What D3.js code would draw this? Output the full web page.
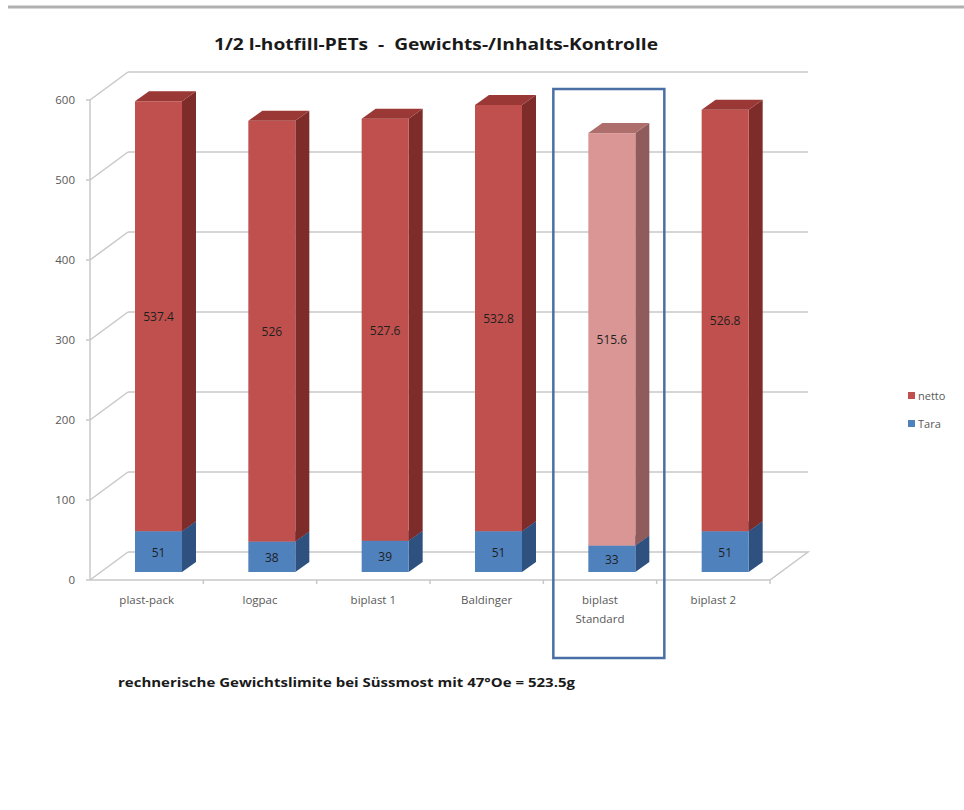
<!DOCTYPE html>
<html><head><meta charset="utf-8">
<script src="https://cdn.jsdelivr.net/npm/d3@7"></script>
<style>body{margin:0;background:#fff;} svg{display:block;font-family:"Open Sans","Liberation Sans",sans-serif;} text{white-space:pre;}</style>
</head><body>
<svg id="c" width="964" height="810"></svg>
<script>
const categories = ["plast-pack","logpac","biplast 1","Baldinger","biplast\nStandard","biplast 2"];
const tara = [51,38,39,51,33,51];
const netto = [537.4,526,527.6,532.8,515.6,526.8];
const yTicks = [0,100,200,300,400,500,600];
const highlightIndex = 4;
const title = "1/2 l-hotfill-PETs  -  Gewichts-/Inhalts-Kontrolle";
const footnote = "rechnerische Gewichtslimite bei Süssmost mit 47°Oe = 523.5g";

const svg = d3.select("#c");
const x = d3.scaleBand().domain(categories).range([90, 770]);
const y = d3.scaleLinear().domain([0,600]).range([580,100]);
const wallDx = 38, wallDy = -28;
const barDx = 14, barDy = -10, barLift = 8, barOff = 45, barW = 47;
const grid = "#c8c8c8";

// top line
svg.append("line").attr("x1",8).attr("x2",964).attr("y1",7).attr("y2",7).attr("stroke","#b0b0b0").attr("stroke-width",3);

// title
svg.append("text").attr("x",436).attr("y",50).attr("text-anchor","middle")
  .attr("font-size",16).attr("font-weight","bold").attr("fill","#1a1a1a")
  .attr("textLength",444).attr("lengthAdjust","spacingAndGlyphs").text(title);

// back wall gridlines + left wall diagonals
const g = svg.append("g");
yTicks.forEach(t=>{
  if(t>0){
    g.append("line").attr("x1",x.range()[0]+wallDx).attr("x2",x.range()[1]+wallDx)
      .attr("y1",y(t)+wallDy).attr("y2",y(t)+wallDy).attr("stroke",grid).attr("stroke-width",1.5);
  }
  g.append("line").attr("x1",x.range()[0]).attr("y1",y(t)).attr("x2",x.range()[0]+wallDx).attr("y2",y(t)+wallDy)
    .attr("stroke",grid).attr("stroke-width",1.5);
});
// floor
const x0 = x.range()[0], x1 = x.range()[1];
g.append("path").attr("d",`M${x0},${y(0)}L${x1},${y(0)}L${x1+wallDx},${y(0)+wallDy}L${x0+wallDx},${y(0)+wallDy}`)
  .attr("fill","none").attr("stroke",grid).attr("stroke-width",1.5);
// left axis line
g.append("line").attr("x1",x0).attr("x2",x0).attr("y1",y(0)).attr("y2",y(600)).attr("stroke",grid).attr("stroke-width",1.5);
// y ticks + labels
yTicks.forEach(t=>{
  g.append("line").attr("x1",x0-4).attr("x2",x0).attr("y1",y(t)).attr("y2",y(t)).attr("stroke",grid).attr("stroke-width",1.5);
  g.append("text").attr("x",x0-15).attr("y",y(t)+4).attr("text-anchor","end").attr("font-size",11.5).attr("fill","#595959").text(t);
});
// x ticks
categories.forEach((c,i)=>{
  g.append("line").attr("x1",x(c)+x.bandwidth()).attr("x2",x(c)+x.bandwidth()).attr("y1",y(0)).attr("y2",y(0)+4).attr("stroke",grid).attr("stroke-width",1.5);
});

// bars
const colors = {
  netto:{front:"#C0504D",side:"#7E2C2A",top:"#9A3835"},
  nettoHi:{front:"#D99694",side:"#8F5C5B",top:"#AE6E6C"},
  tara:{front:"#4F81BD",side:"#2E5180",top:"#3B689F"}
};
function box(gb, xl, yb, yt, c, drawTop){
  gb.append("path").attr("d",`M${xl+barW},${yb}L${xl+barW+barDx},${yb+barDy}L${xl+barW+barDx},${yt+barDy}L${xl+barW},${yt}Z`).attr("fill",c.side);
  gb.append("rect").attr("x",xl).attr("y",yt).attr("width",barW).attr("height",yb-yt).attr("fill",c.front);
  if(drawTop) gb.append("path").attr("d",`M${xl},${yt}L${xl+barDx},${yt+barDy}L${xl+barW+barDx},${yt+barDy}L${xl+barW},${yt}Z`).attr("fill",c.top);
}
categories.forEach((c,i)=>{
  const gb = svg.append("g");
  const xl = x(c)+barOff;
  const yb0 = y(0)-barLift, yb1 = y(tara[i])-barLift, yb2 = y(tara[i]+netto[i])-barLift;
  box(gb, xl, yb0, yb1, colors.tara, true);
  box(gb, xl, yb1, yb2, i===highlightIndex?colors.nettoHi:colors.netto, true);
  gb.append("text").attr("x",xl+barW/2).attr("y",(yb0+yb1)/2+5).attr("text-anchor","middle").attr("font-size",12).attr("fill","#1f1f1f").text(tara[i]);
  gb.append("text").attr("x",xl+barW/2).attr("y",(yb1+yb2)/2+5).attr("text-anchor","middle").attr("font-size",12).attr("fill","#1f1f1f").text(netto[i]);
  // category label
  const lines = c.split("\n");
  lines.forEach((l,k)=>{
    svg.append("text").attr("x",x(c)+x.bandwidth()/2).attr("y",604+k*19).attr("text-anchor","middle")
      .attr("font-size",11.5).attr("fill","#595959").text(l);
  });
});

// highlight rectangle
const hc = categories[highlightIndex];
svg.append("rect").attr("x",x(hc)+10).attr("y",89).attr("width",111).attr("height",569)
  .attr("fill","none").attr("stroke","#4A6FA5").attr("stroke-width",2.5);

// legend
const legend = [["netto",colors.netto.front],["Tara",colors.tara.front]];
legend.forEach((d,i)=>{
  svg.append("rect").attr("x",908).attr("y",392+i*28).attr("width",7).attr("height",7).attr("fill",d[1]);
  svg.append("text").attr("x",918).attr("y",400+i*28).attr("font-size",11).attr("fill","#595959").text(d[0]);
});

// footnote
svg.append("text").attr("x",118).attr("y",687).attr("font-size",13).attr("font-weight","bold").attr("fill","#1a1a1a")
  .attr("textLength",457).attr("lengthAdjust","spacingAndGlyphs").text(footnote);
</script>
</body></html>
